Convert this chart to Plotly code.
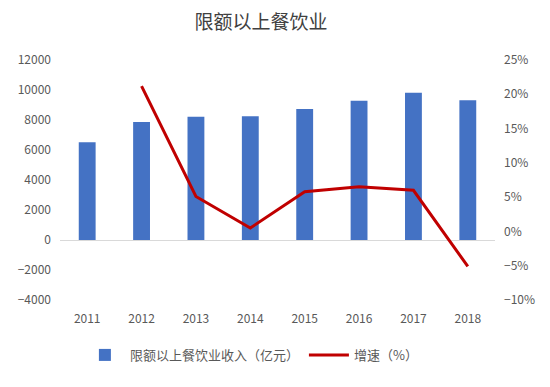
import plotly.graph_objects as go

years = ["2011", "2012", "2013", "2014", "2015", "2016", "2017", "2018"]
revenue = [6510, 7870, 8220, 8250, 8730, 9290, 9820, 9310]
growth = [None, 21.2, 5.1, 0.5, 5.8, 6.5, 6.0, -5.1]

bar_name = "限额以上餐饮业收入（亿元）"
line_name = "增速（%）"
title_text = "限额以上餐饮业"

font_family = "Noto Sans CJK SC, Noto Sans, sans-serif"

fig = go.Figure()
fig.add_trace(go.Bar(
    x=years, y=revenue, name=bar_name,
    marker=dict(color="#4472C4", line=dict(width=0)),
    yaxis="y",
))
fig.add_trace(go.Scatter(
    x=years, y=growth, name=line_name, mode="lines",
    line=dict(color="#C00000", width=3),
    yaxis="y2", connectgaps=False,
))

fig.update_layout(
    width=550, height=387,
    margin=dict(l=52, r=63, t=52, b=95, autoexpand=False),
    paper_bgcolor="white", plot_bgcolor="white",
    font=dict(family=font_family, size=12, color="#595959"),
    title=dict(text=title_text, x=0.46, xanchor="center", y=0.962, yanchor="middle",
               font=dict(family=font_family, size=19, color="#404040")),
    bargap=0.69,
    showlegend=True,
    legend=dict(orientation="h", x=0.44, xanchor="center", y=-0.229, yanchor="middle",
                font=dict(size=13, color="#595959"), itemwidth=40),
    xaxis=dict(showgrid=False, showline=False, ticks="outside", ticklen=8,
               tickcolor="rgba(0,0,0,0)", tickfont=dict(size=12)),
    yaxis=dict(range=[-4000, 12000], dtick=2000, tickformat="d", showgrid=False,
               zeroline=True, zerolinecolor="#D9D9D9", zerolinewidth=1, showline=False,
               tickfont=dict(size=12), ticks="", ticklabelstandoff=8),
    yaxis2=dict(range=[-10, 25], dtick=5, ticksuffix="%", overlaying="y", side="right",
                showgrid=False, zeroline=False, showline=False,
                tickfont=dict(size=12), ticks="", ticklabelstandoff=8),
)

fig.write_html("out.html")
